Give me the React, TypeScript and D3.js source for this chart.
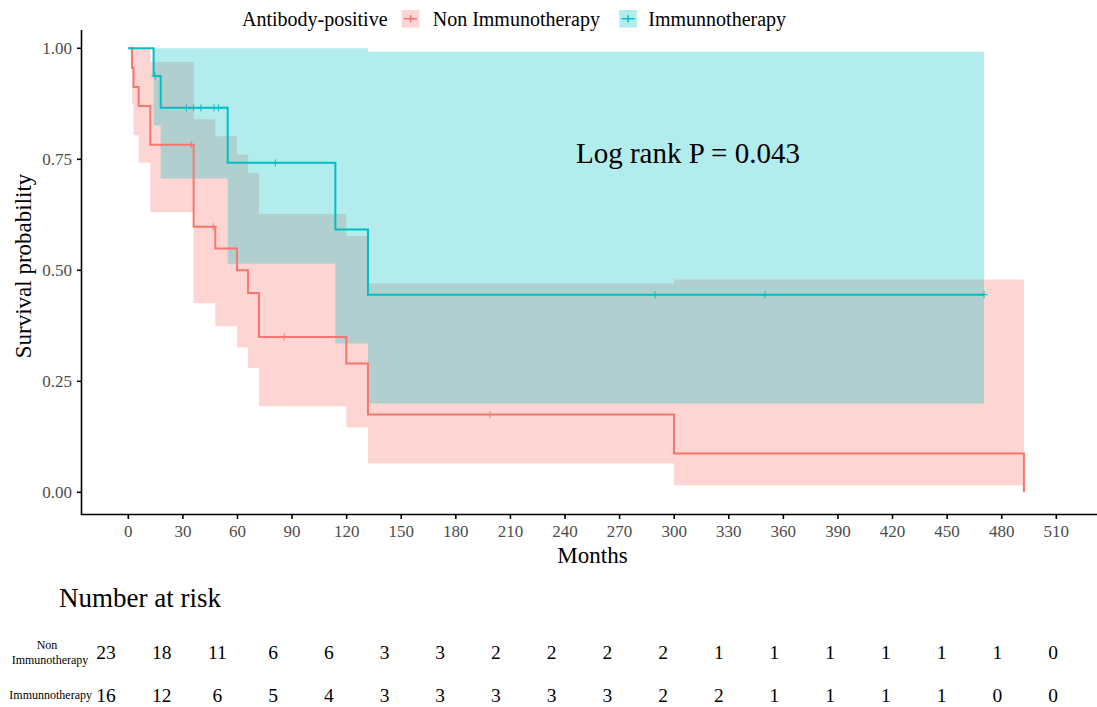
import * as d3 from "d3";

// Kaplan-Meier steps (months, survival, 95% band)
const nonTime = [0, 2.0, 2.9, 5.7, 12.1, 35.9, 47.8, 59.7, 65.8, 71.8, 119.8, 131.7, 299.9];
const nonSurv = [1, 0.956, 0.913, 0.87, 0.783, 0.598, 0.549, 0.5, 0.449, 0.35, 0.29, 0.175, 0.0875];
const nonLower = [1, 0.875, 0.804, 0.742, 0.631, 0.426, 0.374, 0.326, 0.28, 0.194, 0.146, 0.065, 0.016];
const nonUpper = [1, 1, 1, 1, 0.969, 0.84, 0.802, 0.761, 0.719, 0.627, 0.577, 0.47, 0.479];
const nonEnd = 492.2; // last event: drops to 0
const nonCensor = [34.6, 46.7, 85.7, 198.8];

const immTime = [0, 13.9, 17.8, 54.6, 113.8, 131.7];
const immSurv = [1, 0.9375, 0.866, 0.742, 0.592, 0.445];
const immLower = [1, 0.826, 0.707, 0.515, 0.335, 0.2];
const immUpper = [1, 1, 1, 1, 1, 0.992];
const immEnd = 470.3;
const immCensor = [14.7, 31.9, 35.9, 39.9, 47.1, 49.6, 80.8, 289.5, 349.9, 470.3];

const xTicks = [0, 30, 60, 90, 120, 150, 180, 210, 240, 270, 300, 330, 360, 390, 420, 450, 480, 510];
const yTicks = [0, 0.25, 0.5, 0.75, 1];

const riskNon = [23, 18, 11, 6, 6, 3, 3, 2, 2, 2, 2, 1, 1, 1, 1, 1, 1, 0];
const riskImm = [16, 12, 6, 5, 4, 3, 3, 3, 3, 3, 2, 2, 1, 1, 1, 1, 0, 0];

const RED = "#F8766D";
const TEAL = "#00BFC4";
const FONT = "'Liberation Serif', 'Times New Roman', serif";

const W = 1097;
const H = 707;

export default function App() {
  const x = d3.scaleLinear([0, 510], [128.3, 1056.3]);
  const y = d3.scaleLinear([0, 1], [492.3, 48.3]);
  const xRisk = d3.scaleLinear([0, 510], [106, 1053]);

  const line = d3
    .line<[number, number]>()
    .x((d) => x(d[0]))
    .y((d) => y(d[1]))
    .curve(d3.curveStepAfter);

  const band = d3
    .area<[number, number, number]>()
    .x((d) => x(d[0]))
    .y0((d) => y(d[1]))
    .y1((d) => y(d[2]))
    .curve(d3.curveStepAfter);

  // build point lists
  const nonPts: [number, number][] = nonTime.map((t, i) => [t, nonSurv[i]]);
  nonPts.push([nonEnd, nonSurv[nonSurv.length - 1]]);
  nonPts.push([nonEnd, 0]);
  const immPts: [number, number][] = immTime.map((t, i) => [t, immSurv[i]]);
  immPts.push([immEnd, immSurv[immSurv.length - 1]]);

  const nonBand: [number, number, number][] = nonTime.map((t, i) => [t, nonLower[i], nonUpper[i]]);
  nonBand.push([nonEnd, nonLower[nonLower.length - 1], nonUpper[nonUpper.length - 1]]);
  const immBand: [number, number, number][] = immTime.map((t, i) => [t, immLower[i], immUpper[i]]);
  immBand.push([immEnd, immLower[immLower.length - 1], immUpper[immUpper.length - 1]]);

  function survAt(times: number[], surv: number[], t: number) {
    const i = d3.bisectRight(times, t) - 1;
    return surv[Math.max(0, i)];
  }

  function plus(cx: number, cy: number) {
    return `M${cx - 3.5},${cy}H${cx + 3.5}M${cx},${cy - 3.5}V${cy + 3.5}`;
  }

  return (
    <svg
      width={W}
      height={H}
      style={{ position: "absolute", left: 0, top: 0, background: "white", fontFamily: FONT }}
      fontFamily={FONT}
    >
      {/* legend */}
      <g>
        <text x={242} y={19} fontSize={20} dominantBaseline="central" fill="#000">
          Antibody-positive
        </text>
        <rect x={401.7} y={10} width={17.6} height={17.6} fill={RED} fillOpacity={0.3} />
        <path d={`M404,18.8H417M410.5,15.3V22.3`} stroke={RED} strokeWidth={1.6} />
        <text x={432.7} y={19} fontSize={20} dominantBaseline="central" fill="#000">
          Non Immunotherapy
        </text>
        <rect x={619.3} y={10} width={17.6} height={17.6} fill={TEAL} fillOpacity={0.3} />
        <path d={`M621.6,18.8H634.6M628.1,15.3V22.3`} stroke={TEAL} strokeWidth={1.6} />
        <text x={648.3} y={19} fontSize={20} dominantBaseline="central" fill="#000">
          Immunnotherapy
        </text>
      </g>

      {/* confidence bands */}
      <path d={band(nonBand) ?? ""} fill={RED} fillOpacity={0.3} />
      <path d={band(immBand) ?? ""} fill={TEAL} fillOpacity={0.3} />

      {/* curves */}
      <path d={line(nonPts) ?? ""} fill="none" stroke={RED} strokeWidth={2} />
      {nonCensor.map((t, i) => (
        <path key={"nc" + i} d={plus(x(t), y(survAt(nonTime, nonSurv, t)))} stroke={RED} strokeWidth={1} />
      ))}
      <path d={line(immPts) ?? ""} fill="none" stroke={TEAL} strokeWidth={2} />
      {immCensor.map((t, i) => (
        <path key={"ic" + i} d={plus(x(t), y(survAt(immTime, immSurv, t)))} stroke={TEAL} strokeWidth={1} />
      ))}

      <text x={576} y={153} fontSize={29} dominantBaseline="central" fill="#000">
        Log rank P = 0.043
      </text>

      {/* axes */}
      <line x1={81.5} x2={81.5} y1={30} y2={515} stroke="#000" strokeWidth={1.6} />
      <line x1={81} x2={W} y1={514.5} y2={514.5} stroke="#000" strokeWidth={1.6} />
      {yTicks.map((v) => (
        <g key={"y" + v}>
          <line x1={77} x2={81.5} y1={y(v)} y2={y(v)} stroke="#000" strokeWidth={1.6} />
          <text x={72} y={y(v)} fontSize={17} textAnchor="end" dominantBaseline="central" fill="#4D4D4D">
            {v.toFixed(2)}
          </text>
        </g>
      ))}
      {xTicks.map((v) => (
        <g key={"x" + v}>
          <line x1={x(v)} x2={x(v)} y1={514.5} y2={519} stroke="#000" strokeWidth={1.6} />
          <text x={x(v)} y={537} fontSize={17} textAnchor="middle" fill="#4D4D4D">
            {v}
          </text>
        </g>
      ))}
      <text x={592.5} y={563} fontSize={23} textAnchor="middle" fill="#000">
        Months
      </text>
      <text
        transform={`translate(31,266) rotate(-90)`}
        fontSize={23}
        textAnchor="middle"
        fill="#000"
      >
        Survival probability
      </text>

      {/* risk table */}
      <text x={59} y={607} fontSize={27} fill="#000">
        Number at risk
      </text>
      <text x={47} y={645} fontSize={12} textAnchor="middle" dominantBaseline="central" fill="#000">
        Non
      </text>
      <text x={50} y={660} fontSize={12} textAnchor="middle" dominantBaseline="central" fill="#000">
        Immunotherapy
      </text>
      <text x={92} y={695} fontSize={12} textAnchor="end" dominantBaseline="central" fill="#000">
        Immunnotherapy
      </text>
      {riskNon.map((n, i) => (
        <text key={"rn" + i} x={xRisk(xTicks[i])} y={652} fontSize={19.5} textAnchor="middle" dominantBaseline="central" fill="#000">
          {n}
        </text>
      ))}
      {riskImm.map((n, i) => (
        <text key={"ri" + i} x={xRisk(xTicks[i])} y={695} fontSize={19.5} textAnchor="middle" dominantBaseline="central" fill="#000">
          {n}
        </text>
      ))}
    </svg>
  );
}
